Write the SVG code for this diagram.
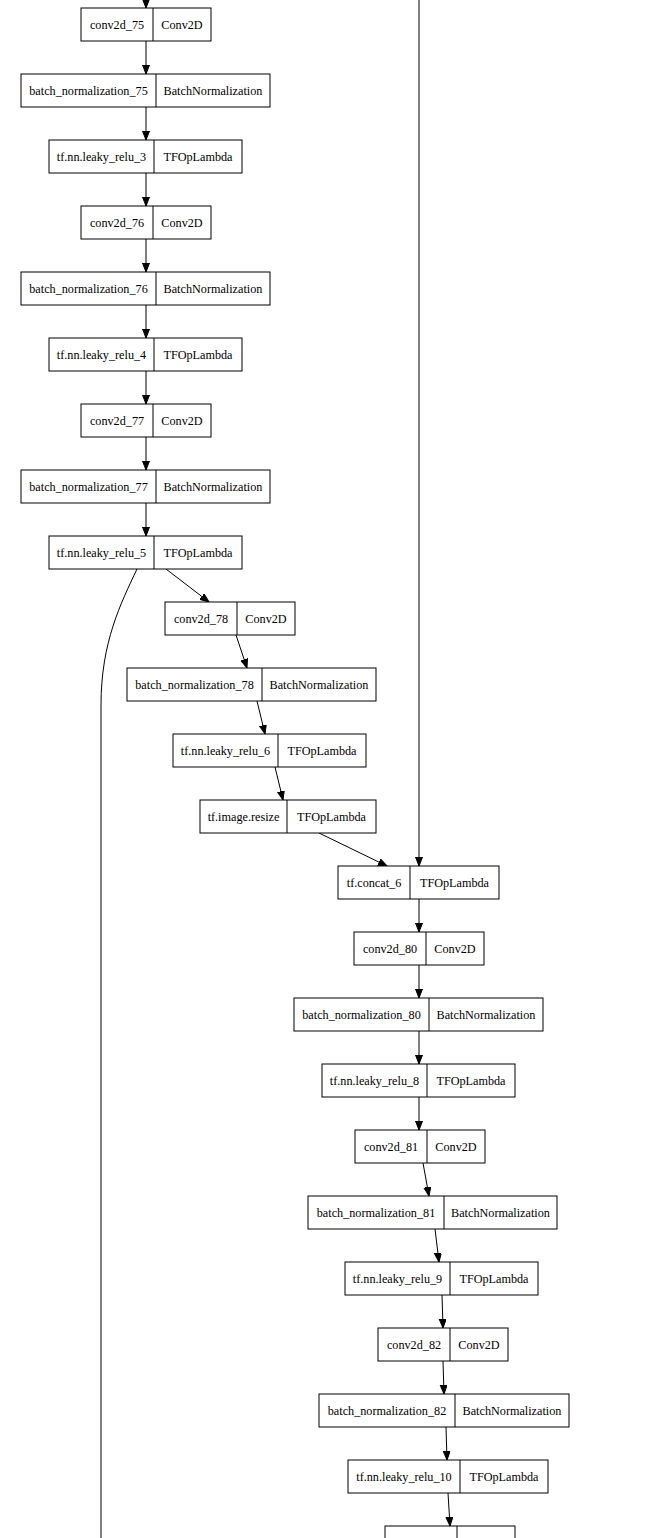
<svg xmlns="http://www.w3.org/2000/svg" width="662" height="1538" viewBox="0 0 662 1538">
<style>
.n rect{fill:#fff;stroke:#000;stroke-width:1}
.n line{stroke:#000;stroke-width:1}
.n text{font-family:"Liberation Serif","Times New Roman",serif;font-size:12.2px;text-anchor:middle;fill:#000}
#edges path{fill:none;stroke:#000;stroke-width:1}
#edges .a{marker-end:url(#ah)}
</style>
<defs>
<marker id="ah" markerUnits="userSpaceOnUse" markerWidth="10" markerHeight="8" refX="9" refY="3.5" orient="auto">
<path d="M0,0 L9,3.5 L0,7 z" fill="#000" stroke="#000" stroke-width="1"/>
</marker>
</defs>
<rect width="662" height="1538" fill="#fff"/>
<g id="edges">
<path class="a" d="M146,0 L146,8"/>
<path class="a" d="M146,41 L146,74"/>
<path class="a" d="M146,107 L146,140"/>
<path class="a" d="M146,173 L146,206"/>
<path class="a" d="M146,239 L146,272"/>
<path class="a" d="M146,305 L146,338"/>
<path class="a" d="M146,371 L146,404"/>
<path class="a" d="M146,437 L146,470"/>
<path class="a" d="M146,503 L146,536"/>
<path class="a" d="M166,569 L209,602"/>
<path class="a" d="M236,635 L247,668"/>
<path class="a" d="M257,701 L265,734"/>
<path class="a" d="M275,767 L283,800"/>
<path class="a" d="M319,833 L387,866"/>
<path class="a" d="M419,0 L419,866"/>
<path class="a" d="M419,899 L419,932"/>
<path class="a" d="M419,965 L419,998"/>
<path class="a" d="M419,1031 L419,1064"/>
<path class="a" d="M419,1097 L419,1130"/>
<path class="a" d="M423,1163 L429,1196"/>
<path class="a" d="M435,1229 L439,1262"/>
<path class="a" d="M442,1295 L443,1328"/>
<path class="a" d="M443,1361 L444,1394"/>
<path class="a" d="M446,1427 L447,1460"/>
<path class="a" d="M448,1493 L450,1526"/>
<path d="M137,569 C121,603 101,642 101,705 L101,1538"/>
</g>
<g id="conv2d_75" class="n"><rect x="81" y="8" width="130" height="33"/><line x1="153" y1="8" x2="153" y2="41"/><text x="117" y="28.5">conv2d_75</text><text x="182" y="28.5">Conv2D</text></g>
<g id="batch_normalization_75" class="n"><rect x="21" y="74" width="249" height="33"/><line x1="156" y1="74" x2="156" y2="107"/><text x="88.5" y="94.5">batch_normalization_75</text><text x="213" y="94.5">BatchNormalization</text></g>
<g id="leaky_relu_3" class="n"><rect x="49" y="140" width="193" height="33"/><line x1="154" y1="140" x2="154" y2="173"/><text x="101.5" y="160.5">tf.nn.leaky_relu_3</text><text x="198" y="160.5">TFOpLambda</text></g>
<g id="conv2d_76" class="n"><rect x="81" y="206" width="130" height="33"/><line x1="153" y1="206" x2="153" y2="239"/><text x="117" y="226.5">conv2d_76</text><text x="182" y="226.5">Conv2D</text></g>
<g id="batch_normalization_76" class="n"><rect x="21" y="272" width="249" height="33"/><line x1="156" y1="272" x2="156" y2="305"/><text x="88.5" y="292.5">batch_normalization_76</text><text x="213" y="292.5">BatchNormalization</text></g>
<g id="leaky_relu_4" class="n"><rect x="49" y="338" width="193" height="33"/><line x1="154" y1="338" x2="154" y2="371"/><text x="101.5" y="358.5">tf.nn.leaky_relu_4</text><text x="198" y="358.5">TFOpLambda</text></g>
<g id="conv2d_77" class="n"><rect x="81" y="404" width="130" height="33"/><line x1="153" y1="404" x2="153" y2="437"/><text x="117" y="424.5">conv2d_77</text><text x="182" y="424.5">Conv2D</text></g>
<g id="batch_normalization_77" class="n"><rect x="21" y="470" width="249" height="33"/><line x1="156" y1="470" x2="156" y2="503"/><text x="88.5" y="490.5">batch_normalization_77</text><text x="213" y="490.5">BatchNormalization</text></g>
<g id="leaky_relu_5" class="n"><rect x="49" y="536" width="193" height="33"/><line x1="154" y1="536" x2="154" y2="569"/><text x="101.5" y="556.5">tf.nn.leaky_relu_5</text><text x="198" y="556.5">TFOpLambda</text></g>
<g id="conv2d_78" class="n"><rect x="165" y="602" width="130" height="33"/><line x1="237" y1="602" x2="237" y2="635"/><text x="201" y="622.5">conv2d_78</text><text x="266" y="622.5">Conv2D</text></g>
<g id="batch_normalization_78" class="n"><rect x="127" y="668" width="249" height="33"/><line x1="262" y1="668" x2="262" y2="701"/><text x="194.5" y="688.5">batch_normalization_78</text><text x="319" y="688.5">BatchNormalization</text></g>
<g id="leaky_relu_6" class="n"><rect x="173" y="734" width="193" height="33"/><line x1="278" y1="734" x2="278" y2="767"/><text x="225.5" y="754.5">tf.nn.leaky_relu_6</text><text x="322" y="754.5">TFOpLambda</text></g>
<g id="image_resize" class="n"><rect x="200" y="800" width="176" height="33"/><line x1="287" y1="800" x2="287" y2="833"/><text x="243.5" y="820.5">tf.image.resize</text><text x="331.5" y="820.5">TFOpLambda</text></g>
<g id="concat_6" class="n"><rect x="338" y="866" width="161" height="33"/><line x1="410" y1="866" x2="410" y2="899"/><text x="374" y="886.5">tf.concat_6</text><text x="454.5" y="886.5">TFOpLambda</text></g>
<g id="conv2d_80" class="n"><rect x="354" y="932" width="130" height="33"/><line x1="426" y1="932" x2="426" y2="965"/><text x="390" y="952.5">conv2d_80</text><text x="455" y="952.5">Conv2D</text></g>
<g id="batch_normalization_80" class="n"><rect x="294" y="998" width="249" height="33"/><line x1="429" y1="998" x2="429" y2="1031"/><text x="361.5" y="1018.5">batch_normalization_80</text><text x="486" y="1018.5">BatchNormalization</text></g>
<g id="leaky_relu_8" class="n"><rect x="322" y="1064" width="193" height="33"/><line x1="427" y1="1064" x2="427" y2="1097"/><text x="374.5" y="1084.5">tf.nn.leaky_relu_8</text><text x="471" y="1084.5">TFOpLambda</text></g>
<g id="conv2d_81" class="n"><rect x="355" y="1130" width="130" height="33"/><line x1="427" y1="1130" x2="427" y2="1163"/><text x="391" y="1150.5">conv2d_81</text><text x="456" y="1150.5">Conv2D</text></g>
<g id="batch_normalization_81" class="n"><rect x="308" y="1196" width="249" height="33"/><line x1="444" y1="1196" x2="444" y2="1229"/><text x="376" y="1216.5">batch_normalization_81</text><text x="500.5" y="1216.5">BatchNormalization</text></g>
<g id="leaky_relu_9" class="n"><rect x="345" y="1262" width="193" height="33"/><line x1="450" y1="1262" x2="450" y2="1295"/><text x="397.5" y="1282.5">tf.nn.leaky_relu_9</text><text x="494" y="1282.5">TFOpLambda</text></g>
<g id="conv2d_82" class="n"><rect x="378" y="1328" width="130" height="33"/><line x1="450" y1="1328" x2="450" y2="1361"/><text x="414" y="1348.5">conv2d_82</text><text x="479" y="1348.5">Conv2D</text></g>
<g id="batch_normalization_82" class="n"><rect x="319" y="1394" width="250" height="33"/><line x1="455" y1="1394" x2="455" y2="1427"/><text x="387" y="1414.5">batch_normalization_82</text><text x="512" y="1414.5">BatchNormalization</text></g>
<g id="leaky_relu_10" class="n"><rect x="348" y="1460" width="200" height="33"/><line x1="460" y1="1460" x2="460" y2="1493"/><text x="404" y="1480.5">tf.nn.leaky_relu_10</text><text x="504" y="1480.5">TFOpLambda</text></g>
<g id="conv2d_83" class="n"><rect x="385" y="1526" width="130" height="33"/><line x1="457" y1="1526" x2="457" y2="1559"/><text x="421" y="1546.5">conv2d_83</text><text x="486" y="1546.5">Conv2D</text></g>
</svg>
